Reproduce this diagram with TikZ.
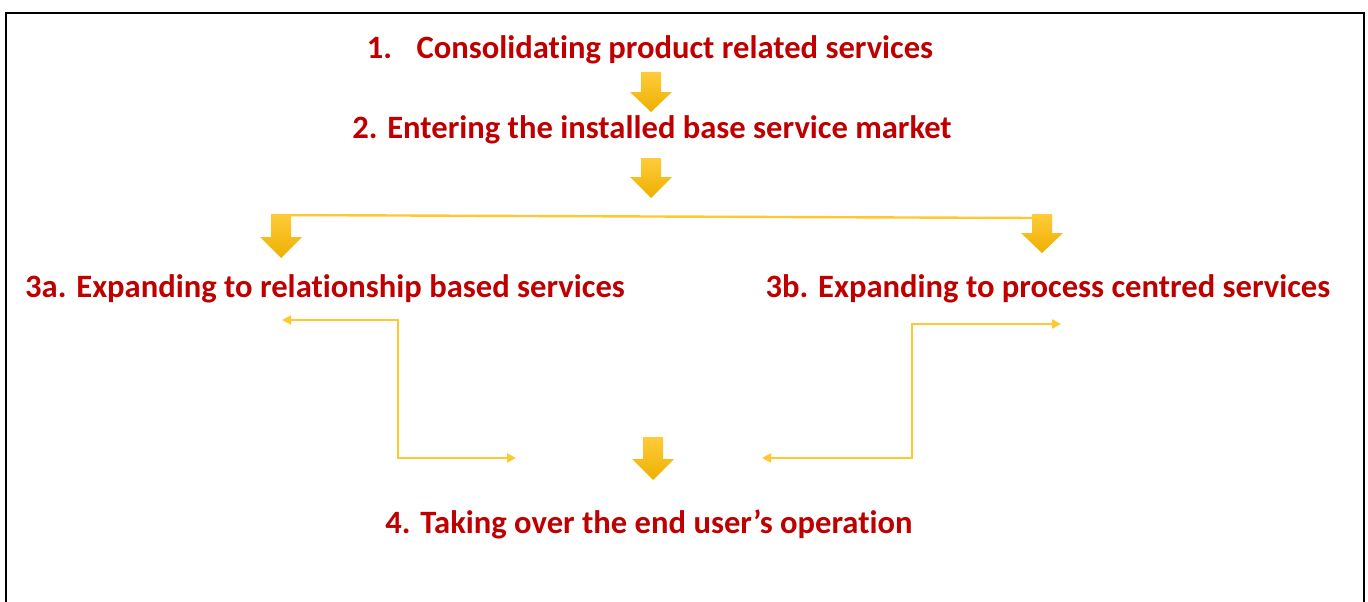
\documentclass[tikz,border=0pt]{standalone}
\usepackage{fontspec}
\setmainfont{Carlito}[Ligatures=NoCommon]
\usetikzlibrary{arrows.meta}
\definecolor{stepred}{HTML}{C00000}
\definecolor{goldlight}{HTML}{FFCB3A}
\definecolor{golddark}{HTML}{EDB000}
\definecolor{goldline}{HTML}{FFC830}
\begin{document}
\begin{tikzpicture}[x=1pt,y=-1pt,
  stagetext/.style={text=stepred,font=\fontsize{32.6}{36}\selectfont\bfseries,inner sep=0pt,anchor=base},
  linkline/.style={draw=goldline,line width=2.4pt},
  linkarrow/.style={linkline,{Triangle[length=9pt,width=9pt]}-{Triangle[length=9pt,width=9pt]}},
  % downward block arrow: origin at the top centre of the shaft;
  % argument: shaft length / head length
  pics/blockdown/.style args={#1/#2}{code={
    \shade[top color=goldlight,bottom color=golddark]
      (-10,0) -- (10,0) -- (10,#1) -- (21,#1) -- (0,#1+#2) -- (-21,#1) -- (-10,#1) -- cycle;
  }}]
\useasboundingbox (0,0) rectangle (1368,602);
\clip (0,0) rectangle (1368,602);
\fill[white] (0,0) rectangle (1368,602);
% outer frame
\draw[line width=2.2pt,black] (6,13) rectangle (1364,650);

% stage labels
\node[stagetext] (s1) at (650,59) {1.\hspace{0.75em}Consolidating product related services};
\node[stagetext] (s2) at (652,138) {2. Entering the installed base service market};
\node[stagetext] (s3a) at (325,297) {3a. Expanding to relationship based services};
\node[stagetext] (s3b) at (1048,297) {3b. Expanding to process centred services};
\node[stagetext] (s4) at (649,533) {4. Taking over the end user’s operation};

% split line feeding the two branch arrows
\coordinate (splitL) at (272,215);
\coordinate (splitR) at (1034,218);
\draw[linkline] (splitL) -- (splitR);

% block arrows
\pic (a1) at (651,72) {blockdown={20/20}};
\pic (a2) at (651,158) {blockdown={19/21}};
\pic (a3a) at (281,214) {blockdown={23/21}};
\pic (a3b) at (1042,214) {blockdown={19/20}};
\pic (a4) at (653,437) {blockdown={22/21}};

% feedback connectors between stage 3 and stage 4
\coordinate (lTop) at (282,320);
\coordinate (lBot) at (516,458);
\coordinate (rTop) at (1061,324);
\coordinate (rBot) at (762,458);
\draw[linkarrow] (lTop) -- (398,320) -- (398,458) -- (lBot);
\draw[linkarrow] (rTop) -- (912,324) -- (912,458) -- (rBot);
\end{tikzpicture}
\end{document}
